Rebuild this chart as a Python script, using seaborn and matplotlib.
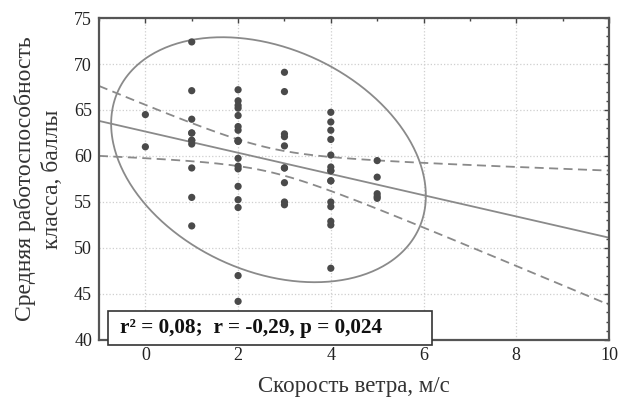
import numpy as np
import pandas as pd
import matplotlib
matplotlib.use("Agg")
import matplotlib.pyplot as plt
from matplotlib.ticker import MultipleLocator
from matplotlib.patches import Rectangle
import seaborn as sns

# ---- data (overlapping dots counted twice) ----
wind_0 = [64.5, 61.0]
wind_1 = [72.4, 67.1, 64.0, 62.5, 62.5, 61.7, 61.7, 61.3, 58.7, 55.5, 52.4]
wind_2 = [67.2, 66.0, 65.5, 65.2, 64.4, 63.2, 62.8, 61.7, 61.6, 61.6, 59.75,
          58.9, 58.6, 56.7, 55.25, 54.4, 47.0, 44.2]
wind_3 = [69.1, 67.0, 62.4, 62.1, 61.1, 58.7, 58.7, 57.1, 55.0, 54.7]
wind_4 = [64.75, 63.7, 62.8, 61.8, 60.1, 58.8, 58.4, 58.4, 57.3, 57.3, 55.0,
          54.5, 52.9, 52.5, 47.8]
wind_5 = [59.5, 57.7, 55.9, 55.6, 55.4]
wind_speeds = [0, 1, 2, 3, 4, 5]
stats_text = "r² = 0,08;  r = -0,29, p = 0,024"
x_label = "Скорость ветра, м/с"
y_label = "Средняя работоспособность\nкласса, баллы"

groups = [wind_0, wind_1, wind_2, wind_3, wind_4, wind_5]
xs = np.concatenate([[w] * len(g) for w, g in zip(wind_speeds, groups)]).astype(float)
ys = np.concatenate(groups).astype(float)
df = pd.DataFrame({"x": xs, "y": ys})

# ---- statistics computed from the data ----
n = len(xs)
xbar, ybar = xs.mean(), ys.mean()
Sxx = ((xs - xbar) ** 2).sum()
slope, intercept = np.polyfit(xs, ys, 1)
resid = ys - (slope * xs + intercept)
s = np.sqrt((resid ** 2).sum() / (n - 2))
t_crit = 2.001
xg = np.linspace(-1, 10, 200)
yhat = slope * xg + intercept
half = t_crit * s * np.sqrt(1 / n + (xg - xbar) ** 2 / Sxx)
line_df = pd.DataFrame({"x": xg, "fit": yhat, "lo": yhat - half, "hi": yhat + half})

cov = np.cov(xs, ys)
F_crit = 3.153
scale = np.sqrt(2 * (n - 1) / (n - 2) * F_crit)
L = np.linalg.cholesky(cov)
th = np.linspace(0, 2 * np.pi, 400)
circ = np.vstack([np.cos(th), np.sin(th)])
ell = (L @ circ) * scale
ell_x = ell[0] + xbar
ell_y = ell[1] + ybar

# ---- plotting ----
sns.set_theme(style="white")
plt.rcParams["font.family"] = ["Liberation Serif", "DejaVu Serif"]

fig = plt.figure(figsize=(6.19, 4.01), dpi=100)
ax = fig.add_axes([99 / 619, 1 - 340 / 401, 510 / 619, 322 / 401])

line_col = "#8a8a8a"
ax.plot(ell_x, ell_y, color=line_col, lw=1.3, zorder=2)
sns.lineplot(data=line_df, x="x", y="fit", ax=ax, color=line_col, lw=1.3, zorder=2)
sns.lineplot(data=line_df, x="x", y="lo", ax=ax, color=line_col, lw=1.3, zorder=2,
             linestyle=(0, (5, 3)))
sns.lineplot(data=line_df, x="x", y="hi", ax=ax, color=line_col, lw=1.3, zorder=2,
             linestyle=(0, (5, 3)))
sns.scatterplot(data=df, x="x", y="y", ax=ax, color="#4a4a4a", s=27,
                edgecolor="none", zorder=3)

ax.set_xlim(-1, 10)
ax.set_ylim(40, 75)
ax.xaxis.set_major_locator(MultipleLocator(2))
ax.xaxis.set_minor_locator(MultipleLocator(1))
ax.yaxis.set_major_locator(MultipleLocator(5))
ax.yaxis.set_minor_locator(MultipleLocator(1))
ax.tick_params(which="both", direction="in", top=True, right=True,
               colors="#444444", labelcolor="#222222", labelsize=13)
ax.tick_params(which="major", length=3.5, width=1, pad=5)
ax.tick_params(which="minor", length=2.5, width=1)
ax.grid(True, which="major", color="#cfcfcf", linestyle=":", lw=0.9)
for sp in ax.spines.values():
    sp.set_color("#555555")
    sp.set_linewidth(1.6)

ax.set_xlabel(x_label, fontsize=16.5, color="#333333", labelpad=9)
ax.set_ylabel(y_label, fontsize=17, color="#333333", labelpad=8, linespacing=1.35)

ax.add_patch(Rectangle((9 / 510, -5 / 322), 324 / 510, 34 / 322,
                       transform=ax.transAxes, facecolor="white",
                       edgecolor="#333333", lw=1.2, zorder=5, clip_on=False))
ax.text(21 / 510, 12 / 322, stats_text, transform=ax.transAxes, fontsize=15.3,
        fontweight="bold", color="#111111", va="center", ha="left", zorder=6)

fig.savefig("out.png", dpi=100)
